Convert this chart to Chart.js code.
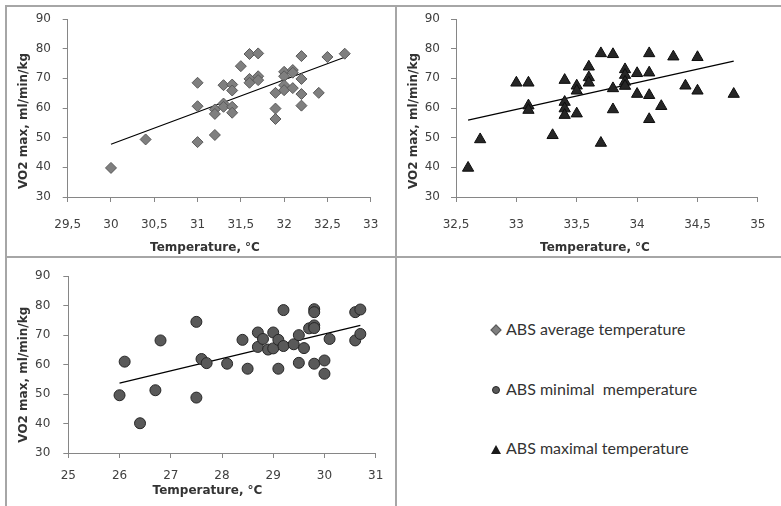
<!DOCTYPE html>
<html>
<head>
<meta charset="utf-8">
<script src="https://cdn.jsdelivr.net/npm/chart.js@4.4.1/dist/chart.umd.min.js"></script>
<style>
  body { margin: 0; background: #fff; }
  #wrap { position: relative; width: 781px; height: 506px; overflow: hidden; background: #fff; }
  canvas { position: absolute; }
  .line { position: absolute; background: #a6a6a6; }
  .leg { position: absolute; left: 506px; font-family: Lato, "Open Sans", sans-serif; font-size: 16px; color: #333; white-space: pre; line-height: 20px; }
  .mk { position: absolute; }
</style>
</head>
<body>
<div id="wrap">
  <canvas id="chartAvg" width="395" height="256" style="left:0;top:0"></canvas>
  <canvas id="chartMax" width="386" height="256" style="left:395px;top:0"></canvas>
  <canvas id="chartMin" width="395" height="250" style="left:0;top:256px"></canvas>

  <div class="line" style="left:5px;top:5px;width:776px;height:2px"></div>
  <div class="line" style="left:5px;top:5px;width:2px;height:501px"></div>
  <div class="line" style="left:395px;top:5px;width:2px;height:501px"></div>
  <div class="line" style="left:5px;top:256px;width:776px;height:2px"></div>

  <div class="mk" style="left:492px;top:326px;width:6px;height:6px;background:#7f7f7f;border:1px solid #595959;transform:rotate(45deg)"></div>
  <div class="leg" style="top:319px">ABS average temperature</div>
  <div class="mk" style="left:492px;top:386px;width:8px;height:8px;border-radius:50%;background:#595959;border:1px solid #262626;box-sizing:border-box"></div>
  <div class="leg" style="top:379px">ABS minimal  memperature</div>
  <div class="mk" style="left:491px;top:445px;width:0;height:0;border-left:5px solid transparent;border-right:5px solid transparent;border-bottom:9px solid #1a1a1a"></div>
  <div class="leg" style="top:438px">ABS maximal temperature</div>
</div>

<script>
// ABS average temperature
const avgTemp = [30.0, 30.4, 31.0, 31.0, 31.0, 31.2, 31.2, 31.2, 31.3, 31.3, 31.3, 31.4, 31.4, 31.4, 31.4, 31.5, 31.6, 31.6, 31.6, 31.7, 31.7, 31.7, 31.9, 31.9, 31.9, 32.0, 32.0, 32.0, 32.0, 32.1, 32.1, 32.1, 32.2, 32.2, 32.2, 32.2, 32.4, 32.5, 32.7];
const avgVO2 = [39.8, 49.4, 68.5, 60.6, 48.5, 59.5, 58.0, 50.9, 67.7, 61.5, 60.4, 67.9, 65.9, 60.4, 58.4, 74.1, 78.2, 69.8, 68.5, 78.4, 70.7, 69.4, 65.1, 59.8, 56.3, 72.2, 70.7, 67.7, 66.0, 72.8, 71.9, 66.7, 77.5, 69.8, 64.7, 60.8, 65.1, 77.2, 78.3];
const trendAvgX = [30.0, 32.7];
const trendAvgY = [47.8, 77.1];

// ABS maximal temperature
const maxTemp = [32.6, 32.7, 33.0, 33.1, 33.1, 33.1, 33.3, 33.4, 33.4, 33.4, 33.4, 33.5, 33.5, 33.5, 33.6, 33.6, 33.6, 33.7, 33.7, 33.8, 33.8, 33.8, 33.9, 33.9, 33.9, 33.9, 34.0, 34.0, 34.1, 34.1, 34.1, 34.1, 34.2, 34.3, 34.4, 34.5, 34.5, 34.8];
const maxVO2 = [39.8, 49.4, 68.5, 68.5, 60.8, 59.3, 50.8, 69.4, 62.0, 59.8, 57.6, 67.5, 65.8, 58.1, 73.9, 70.3, 68.5, 78.4, 48.2, 78.1, 66.6, 59.5, 73.0, 71.1, 68.8, 67.4, 71.7, 64.7, 78.4, 71.9, 64.3, 56.2, 60.6, 77.3, 67.5, 77.1, 65.8, 64.7];
const trendMaxX = [32.6, 34.8];
const trendMaxY = [55.9, 75.8];

// ABS minimal temperature
const minTemp = [26.0, 26.1, 26.4, 26.7, 26.8, 27.5, 27.5, 27.6, 27.7, 28.1, 28.4, 28.5, 28.7, 28.7, 28.8, 28.9, 29.0, 29.0, 29.1, 29.1, 29.2, 29.2, 29.4, 29.5, 29.5, 29.6, 29.7, 29.8, 29.8, 29.8, 29.8, 29.8, 30.0, 30.0, 30.1, 30.6, 30.6, 30.7, 30.7];
const minVO2 = [49.6, 61.0, 40.1, 51.3, 68.2, 74.5, 48.8, 61.9, 60.5, 60.3, 68.4, 58.6, 70.9, 66.0, 68.7, 65.1, 70.9, 65.5, 68.4, 58.6, 78.5, 66.3, 66.9, 70.0, 60.6, 65.6, 72.3, 78.8, 77.8, 73.3, 72.4, 60.3, 61.4, 56.9, 68.7, 77.8, 68.2, 78.7, 70.4];
const trendMinX = [26.0, 30.7];
const trendMinY = [53.7, 73.3];

// axis ranges [min, max, step]
const avgXAxis = [29.5, 33, 0.5];
const maxXAxis = [32.5, 35, 0.5];
const minXAxis = [25, 31, 1];
const yAxis = [30, 90, 10];

const yTitle = "VO2 max, ml/min/kg";
const xTitle = "Temperature, \u00B0C";

Chart.defaults.font.family = '"DejaVu Sans", Verdana, sans-serif';
Chart.defaults.font.size = 12;
Chart.defaults.color = '#404040';

function toPoints(xs, ys) {
  return xs.map((x, i) => ({ x: x, y: ys[i] }));
}

// axis titles placed like Excel does (centred on the whole chart, not the plot)
const titlesPlugin = {
  id: 'panelTitles',
  afterDraw(chart, args, opts) {
    const ctx = chart.ctx;
    ctx.save();
    ctx.font = 'bold 12px "DejaVu Sans", Verdana, sans-serif';
    ctx.fillStyle = '#333';
    ctx.textAlign = 'center';
    ctx.textBaseline = 'middle';
    ctx.fillText(xTitle, opts.xt[0], opts.xt[1]);
    ctx.translate(opts.yt[0], opts.yt[1]);
    ctx.rotate(-Math.PI / 2);
    ctx.fillText(yTitle, 0, 0);
    ctx.restore();
  }
};

function makePanel(id, p) {
  new Chart(id, {
    type: 'scatter',
    data: {
      datasets: [{
        data: toPoints(p.xs, p.ys),
        pointStyle: p.style,
        pointRadius: p.radius,
        pointHoverRadius: p.radius,
        backgroundColor: p.fill,
        borderColor: p.stroke,
        borderWidth: 1
      },
      {
        type: 'line',
        data: toPoints(p.tx, p.ty),
        borderColor: '#000',
        borderWidth: 1.2,
        pointRadius: 0,
        fill: false
      }]
    },
    options: {
      responsive: false,
      animation: false,
      layout: { padding: p.pad },
      plugins: {
        legend: { display: false },
        tooltip: { enabled: false },
        panelTitles: { xt: p.xt, yt: p.yt }
      },
      scales: {
        x: {
          type: 'linear',
          min: p.xAxis[0],
          max: p.xAxis[1],
          ticks: {
            stepSize: p.xAxis[2],
            padding: p.xPad,
            callback: v => String(v).replace('.', ',')
          },
          grid: { drawOnChartArea: false, tickLength: 5, color: '#868686' },
          border: { color: '#868686' },
          afterFit: s => { s.height = p.xH; }
        },
        y: {
          min: yAxis[0],
          max: yAxis[1],
          ticks: { stepSize: yAxis[2], padding: p.yPad },
          grid: { drawOnChartArea: false, tickLength: 5, color: '#868686' },
          border: { color: '#868686' },
          afterFit: s => { s.width = p.yW; }
        }
      }
    },
    plugins: [titlesPlugin]
  });
}

makePanel('chartAvg', {
  xs: avgTemp, ys: avgVO2, tx: trendAvgX, ty: trendAvgY, xAxis: avgXAxis,
  style: 'rectRot', radius: 5.5, fill: '#7f7f7f', stroke: '#595959',
  pad: { left: 0, top: 19, right: 24.3, bottom: 0 }, yW: 67.7, xH: 59,
  xPad: 15.5, yPad: 11.7, xt: [205, 248], yt: [24, 121]
});

makePanel('chartMax', {
  xs: maxTemp, ys: maxVO2, tx: trendMaxX, ty: trendMaxY, xAxis: maxXAxis,
  style: 'triangle', radius: 6.5, fill: '#262626', stroke: '#0d0d0d',
  pad: { left: 0, top: 19, right: 13.3, bottom: 0 }, yW: 61, xH: 59,
  xPad: 15.5, yPad: 11, xt: [200, 248], yt: [19, 121]
});

makePanel('chartMin', {
  xs: minTemp, ys: minVO2, tx: trendMinX, ty: trendMinY, xAxis: minXAxis,
  style: 'circle', radius: 5.5, fill: '#595959', stroke: '#262626',
  pad: { left: 0, top: 13.7, right: 19.3, bottom: 0 }, yW: 68.3, xH: 53,
  xPad: 11, yPad: 13, xt: [207.5, 235.3], yt: [24, 118.7]
});
</script>
</body>
</html>
